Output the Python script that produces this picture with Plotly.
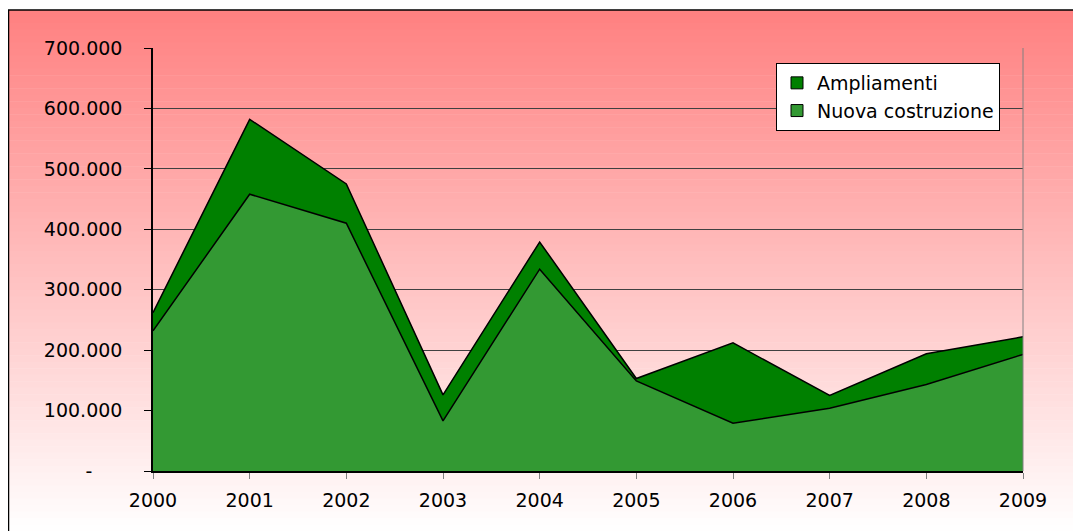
import plotly.graph_objects as go

# Data
anni = [2000, 2001, 2002, 2003, 2004, 2005, 2006, 2007, 2008, 2009]
nuova_costruzione = [232000, 458000, 410000, 83000, 334000, 149000, 79000, 104000, 143000, 193000]
ampliamenti = [30000, 124000, 65000, 43000, 45000, 4000, 133000, 21000, 51000, 29000]

y_ticks = [0, 100000, 200000, 300000, 400000, 500000, 600000, 700000]
y_ticktext = ["-" + "\u00a0" * 5, "100.000", "200.000", "300.000", "400.000", "500.000", "600.000", "700.000"]

# page body adds an 8px margin, so the figure is a bit smaller and shifted
OFF = 8
W, H = 1081 - OFF, 531 - OFF
L, R, T, B = 153 - OFF, 58, 48 - OFF, 60
pw, ph = W - L - R, H - T - B


def px_x(p):
    return (p - OFF - L) / pw


def px_y(p):
    return (H - B - (p - OFF)) / ph


fig = go.Figure()

fig.add_trace(go.Scatter(
    x=anni, y=nuova_costruzione, name="Nuova costruzione",
    mode="lines", stackgroup="one", showlegend=False,
    line=dict(color="black", width=1.5),
    fillcolor="#339933",
))
fig.add_trace(go.Scatter(
    x=anni, y=ampliamenti, name="Ampliamenti",
    mode="lines", stackgroup="one", showlegend=False,
    line=dict(color="black", width=1.5),
    fillcolor="#008000",
))
# square legend keys like the original
fig.add_trace(go.Bar(x=[None], y=[None], name="Nuova costruzione",
                     marker=dict(color="#339933", line=dict(color="black", width=1))))
fig.add_trace(go.Bar(x=[None], y=[None], name="Ampliamenti",
                     marker=dict(color="#008000", line=dict(color="black", width=1))))

# gradient background (red at top -> white at bottom) made of thin bands
shapes = []
top, bottom = 10, 531
n = 80
for i in range(n):
    y0 = top + (bottom - top) * i / n
    y1 = top + (bottom - top) * (i + 1) / n + 0.5
    t = (i + 0.5) / n
    g = int(round(128 + (255 - 128) * t))
    shapes.append(dict(
        type="rect", xref="paper", yref="paper", layer="below",
        x0=px_x(8), x1=px_x(1079), y0=px_y(y1), y1=px_y(y0),
        fillcolor=f"rgb(255,{g},{g})", line=dict(width=0),
    ))
# outer chart border
shapes.append(dict(
    type="rect", xref="paper", yref="paper", layer="above",
    x0=px_x(8.5), x1=px_x(1079), y0=px_y(535), y1=px_y(10),
    line=dict(color="black", width=1.5), fillcolor="rgba(0,0,0,0)",
))
# plot area right border
shapes.append(dict(
    type="line", xref="paper", yref="paper", layer="above",
    x0=1, x1=1, y0=0, y1=1, line=dict(color="#808080", width=1),
))

fig.update_layout(
    width=W, height=H,
    margin=dict(l=L, r=R, t=T, b=B),
    paper_bgcolor="white",
    plot_bgcolor="rgba(0,0,0,0)",
    font=dict(family="DejaVu Sans, Verdana, sans-serif", size=19, color="black"),
    shapes=shapes,
    showlegend=True,
    barmode="overlay",
    legend=dict(
        x=px_x(776), y=px_y(63), xanchor="left", yanchor="top",
        bgcolor="white", bordercolor="black", borderwidth=1,
        traceorder="reversed", font=dict(size=19),
    ),
    xaxis=dict(
        range=[2000, 2009], tickvals=anni, showgrid=False,
        showline=True, linecolor="black", linewidth=1.5,
        ticks="outside", ticklen=6, tickcolor="#808080",
        ticklabelstandoff=5, zeroline=False,
    ),
    yaxis=dict(
        range=[0, 700000], tickvals=y_ticks, ticktext=y_ticktext,
        showgrid=True, gridcolor="#404040", gridwidth=1,
        showline=True, linecolor="black", linewidth=1.5,
        ticks="outside", ticklen=7, tickcolor="black",
        ticklabelstandoff=18, zeroline=False,
    ),
)

fig.write_html("out.html")
